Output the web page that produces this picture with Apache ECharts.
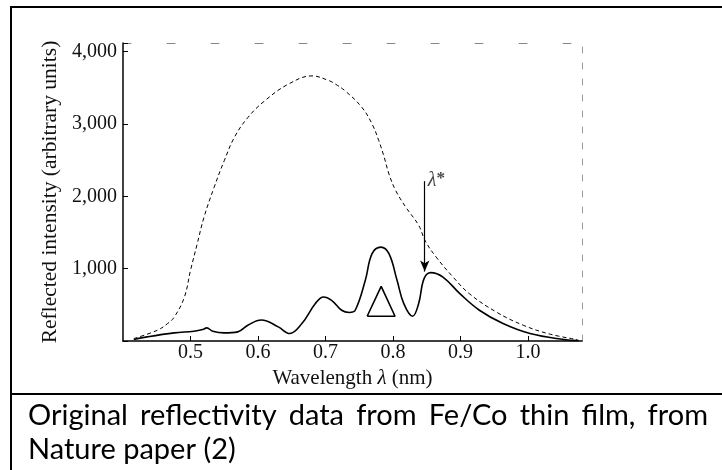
<!DOCTYPE html>
<html><head><meta charset="utf-8">
<script src="https://cdn.jsdelivr.net/npm/echarts@6/dist/echarts.min.js"></script>
<style>html,body{margin:0;padding:0;background:#fff}#c{width:722px;height:470px}</style>
</head><body><div id="c"></div>
<script>
// ---- data ----
const dashedWavelength = [0.416,0.451,0.466,0.476,0.491,0.5,0.51,0.52,0.535,0.55,0.565,0.585,0.61,0.645,0.68,0.705,0.715,0.729,0.754,0.769,0.779,0.787,0.794,0.804,0.819,0.838,0.848,0.864,0.889,0.913,0.953,0.993,1.033,1.073];
const dashedIntensity  = [34,149,241,332,608,976,1345,1711,2125,2493,2815,3090,3321,3551,3665,3600,3550,3459,3229,3000,2769,2539,2310,2080,1850,1600,1380,1160,884,655,401,218,94,20];
const solidWavelength = [0.416,0.436,0.476,0.505,0.518,0.524,0.533,0.55,0.57,0.585,0.605,0.63,0.647,0.665,0.685,0.697,0.709,0.724,0.735,0.744,0.759,0.769,0.782,0.794,0.806,0.816,0.829,0.838,0.846,0.856,0.874,0.899,0.928,0.963,1.003,1.053,1.075];
const solidIntensity  = [20,57,112,135,158,181,135,112,126,218,290,195,103,241,517,608,563,425,395,425,839,1207,1298,1207,839,517,342,517,862,945,884,655,425,241,103,20,5];
const triangleWavelength = [0.7617,0.7825,0.803,0.7617];
const triangleIntensity  = [342,756,342,342];
const arrowWavelength = 0.847;
const arrowIntensity = [2210, 960];
const xTickLabels = ['0.5','0.6','0.7','0.8','0.9','1.0'];
const yTickLabels = ['1,000','2,000','3,000','4,000'];
const captionLines = ['Original reflectivity data from Fe/Co thin film, from','Nature paper (2)'];

const zip = (a,b) => a.map((v,i)=>[v,b[i]]);
const serif = '"Liberation Serif","DejaVu Serif",serif';
const capFont = 'Lato';
const capSize = 29;

const chart = echarts.init(document.getElementById('c'), null, {renderer:'canvas'});

// caption words, justified on line 1
const ctx = document.createElement('canvas').getContext('2d');
ctx.font = capSize + 'px ' + capFont;
const capLeft = 28, capRight = 708;
const captionGraphics = [];
captionLines.forEach((line, li) => {
  const words = line.split(' ');
  const y = li === 0 ? 419 : 453;
  if (li === 0) {
    const widths = words.map(w => ctx.measureText(w).width);
    const total = widths.reduce((s,w)=>s+w,0);
    const gap = (capRight - capLeft - total) / (words.length - 1);
    let x = capLeft;
    words.forEach((w,i) => {
      captionGraphics.push({type:'text', left:x, top:y - capSize*0.6, style:{text:w, font:capSize+'px '+capFont, fill:'#000'}});
      x += widths[i] + gap;
    });
  } else {
    captionGraphics.push({type:'text', left:capLeft, top:y - capSize*0.6, style:{text:line, font:capSize+'px '+capFont, fill:'#000'}});
  }
});

const option = {
  animation:false,
  backgroundColor:'#fff',
  grid:{left:123, right:140, top:43, bottom:129},
  xAxis:[{
    type:'value', min:0.4, max:1.08, interval:0.1,
    axisLine:{show:true, onZero:false, lineStyle:{color:'#000', width:1.5}},
    axisTick:{show:true, inside:true, length:5, lineStyle:{color:'#000'}},
    splitLine:{show:false},
    axisLabel:{color:'#111', fontFamily:serif, fontSize:20, margin:2, showMaxLabel:false, showMinLabel:false,
      formatter:v=>{const i=Math.round((v-0.5)/0.1); return (Math.abs(v-(0.5+i*0.1))<1e-6 && i>=0 && i<xTickLabels.length)?xTickLabels[i]:'';}},
    name:'{n|Wavelength }{i|λ}{n| (nm)}', nameLocation:'middle', nameGap:15,
    nameTextStyle:{verticalAlign:'top', rich:{n:{fontFamily:serif, fontSize:21, color:'#111'}, i:{fontFamily:serif, fontStyle:'italic', fontSize:21, color:'#111'}}}
  },{
    type:'value', position:'top', min:0.4, max:1.08,
    axisLine:{show:true, onZero:false, lineStyle:{color:'#888', width:1, type:[8,36]}},
    axisTick:{show:false}, axisLabel:{show:false}, splitLine:{show:false}
  }],
  yAxis:[{
    type:'value', min:0, max:4120, interval:1000,
    axisLine:{show:true, onZero:false, lineStyle:{color:'#000', width:1.5}},
    axisTick:{show:true, inside:true, length:5, lineStyle:{color:'#000'}},
    splitLine:{show:false},
    axisLabel:{color:'#111', fontFamily:serif, fontSize:20, margin:6,
      formatter:v=>{const i=v/1000-1; return (Number.isInteger(i) && i>=0 && i<yTickLabels.length)?yTickLabels[i]:'';}},
    name:'Reflected intensity (arbitrary units)', nameLocation:'middle', nameGap:55,
    nameTextStyle:{fontFamily:serif, fontSize:21.5, color:'#111'}
  },{
    type:'value', position:'right', min:0, max:4120,
    axisLine:{show:true, onZero:false, lineStyle:{color:'#999', width:1, type:[6,10]}},
    axisTick:{show:false}, axisLabel:{show:false}, splitLine:{show:false}
  }],
  graphic:[
    {type:'line', shape:{x1:11, y1:7, x2:722, y2:7}, style:{stroke:'#000', lineWidth:2}},
    {type:'line', shape:{x1:11, y1:6, x2:11, y2:470}, style:{stroke:'#000', lineWidth:2}},
    {type:'line', shape:{x1:11, y1:394, x2:722, y2:394}, style:{stroke:'#000', lineWidth:2}},
    ...captionGraphics
  ],
  series:[
    {type:'line', name:'reference', data:zip(dashedWavelength, dashedIntensity), smooth:0.4, symbol:'none',
     lineStyle:{color:'#000', width:1, type:[4,3]}},
    {type:'line', name:'measured', data:zip(solidWavelength, solidIntensity), smooth:0.4, symbol:'none',
     lineStyle:{color:'#000', width:1.6}},
    {type:'line', name:'triangle', data:zip(triangleWavelength, triangleIntensity), smooth:false, symbol:'none',
     lineStyle:{color:'#000', width:1.6},
     markLine:{silent:true, symbol:['none','arrow'], symbolSize:[7,11], label:{show:false},
       lineStyle:{color:'#000', width:1.2, type:'solid'},
       data:[[{coord:[arrowWavelength, arrowIntensity[0]]},{coord:[arrowWavelength, arrowIntensity[1]]}]]}},
    {type:'scatter', data:[[arrowWavelength, arrowIntensity[0]]], symbolSize:0,
     label:{show:true, position:'right', distance:3, formatter:'{i|λ}{s|*}',
       rich:{i:{fontFamily:serif, fontStyle:'italic', fontSize:20, color:'#111'}, s:{fontFamily:serif, fontSize:17, fontWeight:'bold', color:'#111', verticalAlign:'top', padding:[0,0,6,0]}}}}
  ]
};
chart.setOption(option);
</script></body></html>
